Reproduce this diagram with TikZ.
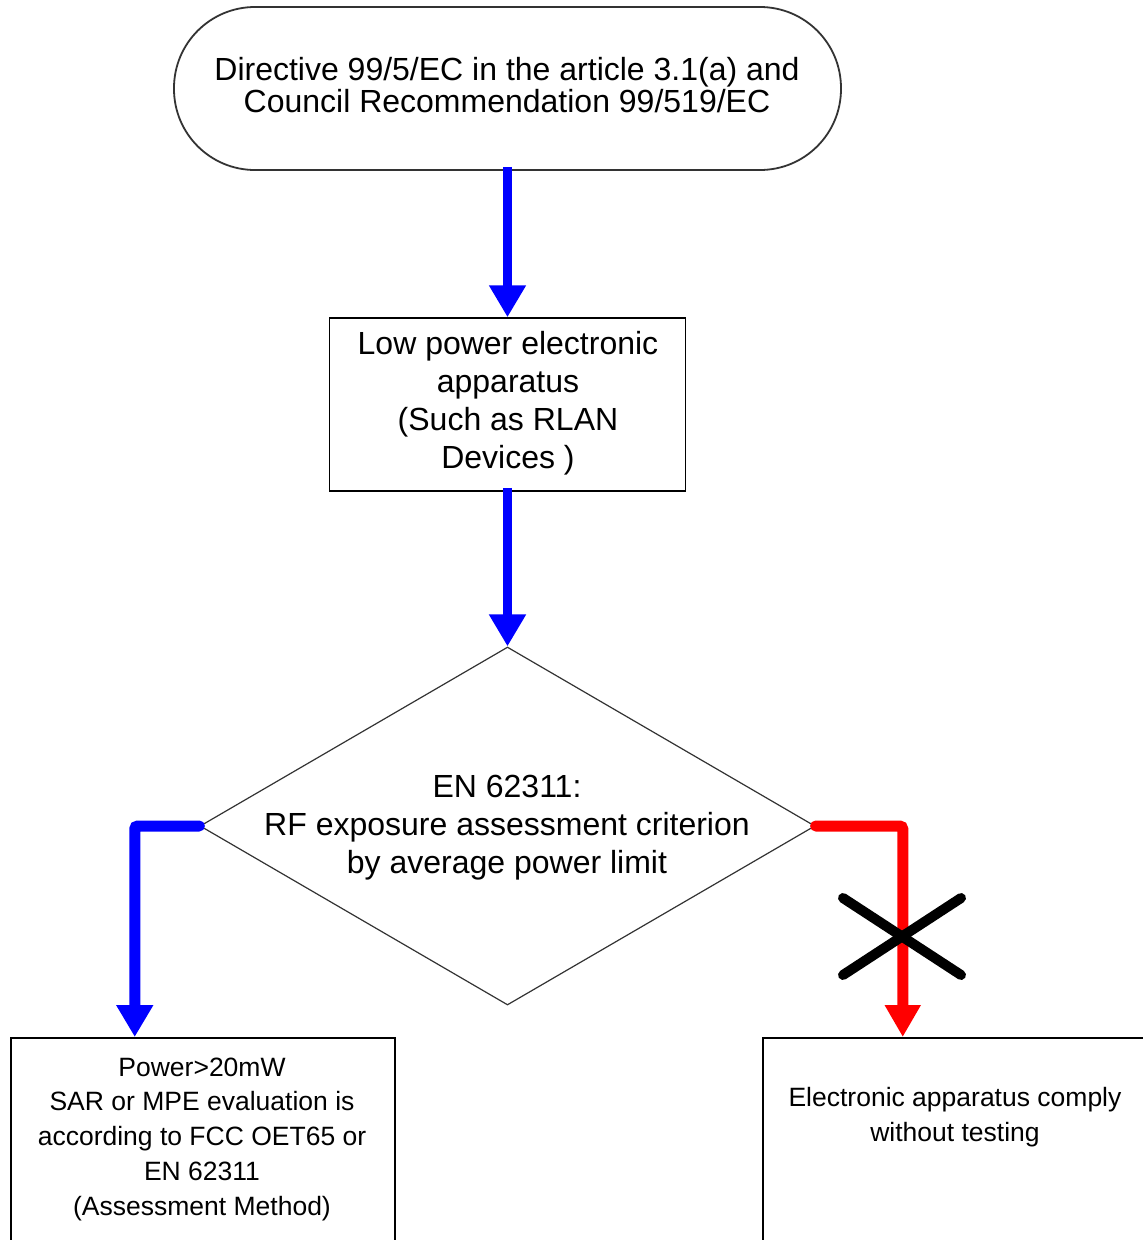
\documentclass[tikz,border=0pt]{standalone}
\usepackage{fontspec}
\setmainfont{Liberation Sans}
\usetikzlibrary{arrows.meta,shapes.geometric}
\definecolor{edgegray}{HTML}{333333}
\begin{document}
\begin{tikzpicture}[x=1pt,y=-1pt,
  boxline/.style={draw=black,line width=1.5pt},
  bluearrow/.style={draw=blue,line width=9pt,-{Triangle[width=35pt,length=32pt]},blue},
  elbowblue/.style={draw=blue,line width=11pt,line cap=round,rounded corners=3pt,-{Triangle[width=35pt,length=32pt]},blue},
  elbowred/.style={draw=red,line width=11pt,line cap=round,rounded corners=3pt,-{Triangle[width=34pt,length=32pt]},red},
  bigtext/.style={align=center,font=\fontsize{32}{38}\selectfont,inner sep=0pt},
  smalltext/.style={align=center,font=\fontsize{26.5}{34.75}\selectfont,inner sep=0pt},
  crossline/.style={draw=black,line width=10pt,line cap=round}]
\useasboundingbox (0,0) rectangle (1143,1240);
\clip (0,0) rectangle (1143,1240);
\fill[white] (0,0) rectangle (1143,1240);

% top terminator
\node[draw=edgegray,line width=1.8pt,rectangle,rounded corners=81pt,
      minimum width=667pt,minimum height=163pt,inner sep=0pt] (top) at (507.5,88.5) {};
\node[align=center,font=\fontsize{32}{32}\selectfont,inner sep=0pt] (toptext) at (507,85)
  {Directive 99/5/EC in the article 3.1(a) and\\Council Recommendation 99/519/EC};

% process box
\node[boxline,rectangle,minimum width=356pt,minimum height=173pt,inner sep=0pt] (lowpower) at (507.5,404.5) {};
\node[bigtext] (lowtext) at (508,403.5)
  {Low power electronic\\apparatus\\(Such as RLAN\\Devices )};

% decision
\node[draw=edgegray,line width=1.2pt,diamond,minimum width=615pt,minimum height=358pt,inner sep=0pt] (dia) at (507.5,826) {};
\node[bigtext] (diatext) at (507,827.5)
  {EN 62311:\\RF exposure assessment criterion\\by average power limit};

% bottom boxes
\node[boxline,rectangle,anchor=north west,minimum width=384pt,minimum height=260pt,inner sep=0pt] (leftbox) at (10,1037) {};
\node[smalltext] (lefttext) at (202,1139)
  {Power>20mW\\SAR or MPE evaluation is\\according to FCC OET65 or\\EN 62311\\(Assessment Method)};
\node[boxline,rectangle,anchor=north west,minimum width=400pt,minimum height=260pt,inner sep=0pt] (rightbox) at (762,1037) {};
\node[smalltext] (righttext) at (955,1117.5)
  {Electronic apparatus comply\\without testing};

% connectors
\draw[bluearrow] ([yshift=4pt]top.south) -- (lowpower.north);
\draw[bluearrow] ([yshift=4pt]lowpower.south) -- (dia.north);
\draw[elbowblue] (dia.west) -| ([xshift=-68pt]leftbox.north);
\draw[elbowred] (dia.east) -| ([xshift=-60pt]rightbox.north);

% cross
\coordinate (xa) at (843,898);
\coordinate (xb) at (961,975);
\coordinate (xc) at (843,975);
\coordinate (xd) at (961,898);
\draw[crossline] (xa) -- (xb);
\draw[crossline] (xc) -- (xd);
\end{tikzpicture}
\end{document}
